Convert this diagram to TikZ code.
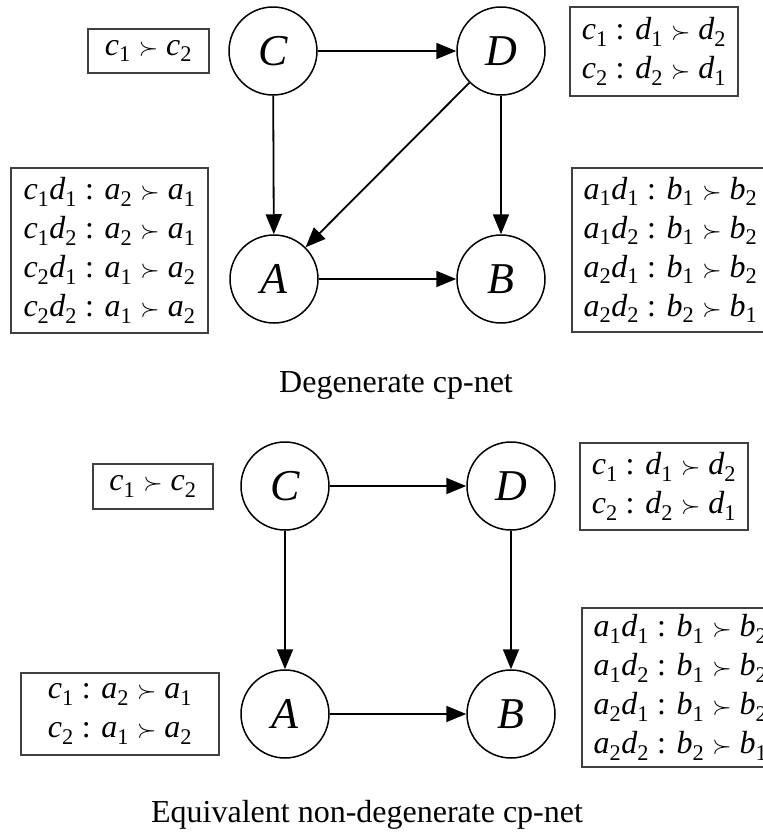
\documentclass[tikz,border=0pt]{standalone}
\usepackage{fontspec}
\setmainfont{Liberation Serif}
\usetikzlibrary{arrows.meta, positioning}
\newcommand{\lit}[2]{\textit{#1}\textsubscript{#2}}
\newcommand{\pref}{\ensuremath{\succ}}
\newcommand{\cptfont}{\fontsize{32}{39}\selectfont}
\newcommand{\varfont}{\fontsize{44}{48}\selectfont\itshape}
\tikzset{
  var/.style  = {circle, draw, line width=1.5pt, minimum size=88pt,
                 inner sep=0pt, font=\varfont},
  cpt/.style  = {rectangle, draw=black!75, line width=1.5pt, font=\cptfont,
                 align=center, inner sep=0pt},
  dep/.style  = {-{Triangle[length=20pt,width=16pt]}, line width=1.8pt},
}

\begin{document}
\begin{tikzpicture}[
    x=1pt, y=-1pt,
    caption/.style={font=\fontsize{32}{38}\selectfont, anchor=base}
]
\useasboundingbox (0,0) rectangle (763,838);
\clip (0,0) rectangle (763,838);

% ---------------- degenerate net ----------------
\node[var] (C) at (273,51) {C};
\node[var] (D) at (501,51) {D};
\node[var] (A) at (274,279) {A};
\node[var] (B) at (501,279) {B};

\node[cpt, minimum width=121pt, minimum height=44pt] (tC) at (148.5,51)
  {\lit{c}{1} \pref{} \lit{c}{2}};
\node[cpt, minimum width=168pt, minimum height=89pt] (tD) at (654,51.5)
  {\lit{c}{1} : \lit{d}{1} \pref{} \lit{d}{2}\\
   \lit{c}{2} : \lit{d}{2} \pref{} \lit{d}{1}};
\node[cpt, minimum width=197pt, minimum height=165pt] (tA) at (109.5,250.5)
  {\lit{c}{1}\lit{d}{1} : \lit{a}{2} \pref{} \lit{a}{1}\\
   \lit{c}{1}\lit{d}{2} : \lit{a}{2} \pref{} \lit{a}{1}\\
   \lit{c}{2}\lit{d}{1} : \lit{a}{1} \pref{} \lit{a}{2}\\
   \lit{c}{2}\lit{d}{2} : \lit{a}{1} \pref{} \lit{a}{2}};
\node[cpt, minimum width=197pt, minimum height=164pt] (tB) at (670.5,250)
  {\lit{a}{1}\lit{d}{1} : \lit{b}{1} \pref{} \lit{b}{2}\\
   \lit{a}{1}\lit{d}{2} : \lit{b}{1} \pref{} \lit{b}{2}\\
   \lit{a}{2}\lit{d}{1} : \lit{b}{1} \pref{} \lit{b}{2}\\
   \lit{a}{2}\lit{d}{2} : \lit{b}{2} \pref{} \lit{b}{1}};

\draw[dep] (C) -- (D);
\draw[dep] (C) -- (A);
\draw[dep] (D) -- (A);
\draw[dep] (D) -- (B);
\draw[dep] (A) -- (B);

\node[caption] (cap1) at (396,392) {Degenerate cp-net};

% ---------------- non-degenerate net ----------------
\node[var] (C2) at (285,486) {C};
\node[var] (D2) at (511,486) {D};
\node[var] (A2) at (285,714) {A};
\node[var] (B2) at (511,714) {B};

\node[cpt, minimum width=120pt, minimum height=45pt] (tC2) at (153,486.5)
  {\lit{c}{1} \pref{} \lit{c}{2}};
\node[cpt, minimum width=168pt, minimum height=87pt] (tD2) at (664,486.5)
  {\lit{c}{1} : \lit{d}{1} \pref{} \lit{d}{2}\\
   \lit{c}{2} : \lit{d}{2} \pref{} \lit{d}{1}};
\node[cpt, minimum width=198pt, minimum height=82pt] (tA2) at (120,714)
  {\lit{c}{1} : \lit{a}{2} \pref{} \lit{a}{1}\\
   \lit{c}{2} : \lit{a}{1} \pref{} \lit{a}{2}};
\node[cpt, minimum width=197pt, minimum height=159pt] (tB2) at (680.5,687.5)
  {\lit{a}{1}\lit{d}{1} : \lit{b}{1} \pref{} \lit{b}{2}\\
   \lit{a}{1}\lit{d}{2} : \lit{b}{1} \pref{} \lit{b}{2}\\
   \lit{a}{2}\lit{d}{1} : \lit{b}{1} \pref{} \lit{b}{2}\\
   \lit{a}{2}\lit{d}{2} : \lit{b}{2} \pref{} \lit{b}{1}};

\draw[dep] (C2) -- (D2);
\draw[dep] (C2) -- (A2);
\draw[dep] (D2) -- (B2);
\draw[dep] (A2) -- (B2);

\node[caption] (cap2) at (367,822) {Equivalent non-degenerate cp-net};

\end{tikzpicture}
\end{document}
